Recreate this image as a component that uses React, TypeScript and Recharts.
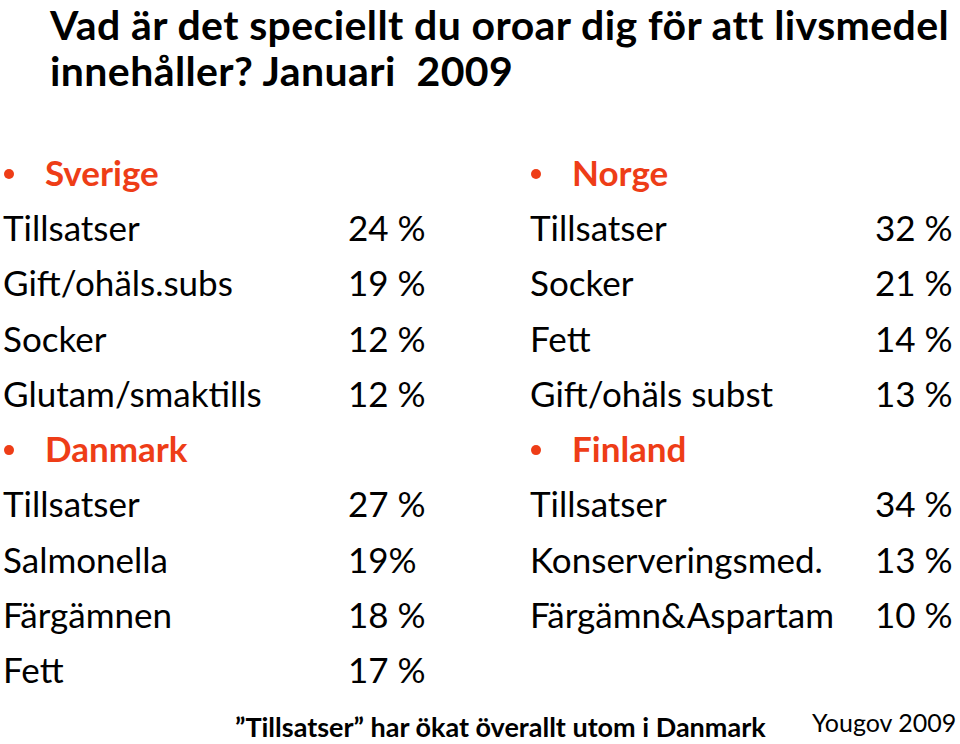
import React from "react";
import { ScatterChart, Scatter, XAxis, YAxis } from "recharts";

const title = ["Vad är det speciellt du oroar dig för att livsmedel", "innehåller? Januari  2009"];

const sverigeItems = ["Tillsatser", "Gift/ohäls.subs", "Socker", "Glutam/smaktills"];
const sverigeValues = ["24 %", "19 %", "12 %", "12 %"];

const danmarkItems = ["Tillsatser", "Salmonella", "Färgämnen", "Fett"];
const danmarkValues = ["27 %", "19%", "18 %", "17 %"];

const norgeItems = ["Tillsatser", "Socker", "Fett", "Gift/ohäls subst"];
const norgeValues = ["32 %", "21 %", "14 %", "13 %"];

const finlandItems = ["Tillsatser", "Konserveringsmed.", "Färgämn&Aspartam"];
const finlandValues = ["34 %", "13 %", "10 %"];

const footnote = "”Tillsatser” har ökat överallt utom i Danmark";
const source = "Yougov 2009";

const ORANGE = "#EE3D17";
const FONT = "Lato, 'Open Sans', sans-serif";

type Row = { col: number; row: number; label: string; value?: string; header?: boolean };

// one country block: header line + item lines below it
function block(col: number, start: number, name: string, items: string[], values: string[]): Row[] {
  const out: Row[] = [{ col, row: start, label: name, header: true }];
  items.forEach((it, i) => out.push({ col, row: start + 1 + i, label: it, value: values[i] }));
  return out;
}

const rows: Row[] = [
  ...block(0, 0, "Sverige", sverigeItems, sverigeValues),
  ...block(0, 5, "Danmark", danmarkItems, danmarkValues),
  ...block(1, 0, "Norge", norgeItems, norgeValues),
  ...block(1, 5, "Finland", finlandItems, finlandValues),
];

const VALUE_OFFSET = [345, 345];

const RowShape = (props: any) => {
  const { cx, cy, payload } = props;
  if (payload.header) {
    return (
      <g>
        <circle cx={cx + 6} cy={cy - 12} r={5} fill={ORANGE} />
        <text x={cx + 42} y={cy} fill={ORANGE} fontFamily={FONT} fontWeight={700} fontSize={35}>
          {payload.label}
        </text>
      </g>
    );
  }
  return (
    <g fontFamily={FONT} fontSize={35} fill="#000">
      <text x={cx} y={cy}>{payload.label}</text>
      <text x={cx + VALUE_OFFSET[payload.col]} y={cy}>{payload.value}</text>
    </g>
  );
};

const titleStyle: React.CSSProperties = {
  position: "absolute",
  left: 50,
  fontFamily: FONT,
  fontWeight: 700,
  fontSize: 41,
  letterSpacing: 0.4,
  lineHeight: "30px",
  whiteSpace: "pre",
  color: "#000",
};

export default function App() {
  return (
    <div style={{ position: "absolute", left: 0, top: 0, width: 960, height: 744, background: "#fff", overflow: "hidden" }}>
      <div style={{ ...titleStyle, top: 10 }}>{title[0]}</div>
      <div style={{ ...titleStyle, top: 56 }}>{title[1]}</div>
      <ScatterChart width={960} height={744} margin={{ top: 186, right: 430, bottom: 61, left: 3 }}>
        <XAxis type="number" dataKey="col" domain={[0, 1]} hide />
        <YAxis type="number" dataKey="row" domain={[0, 9]} reversed hide />
        <Scatter data={rows} shape={RowShape} isAnimationActive={false} />
      </ScatterChart>
      <div
        style={{
          position: "absolute",
          left: 235,
          top: 717,
          fontFamily: FONT,
          fontWeight: 700,
          fontSize: 27,
          lineHeight: "20px",
          whiteSpace: "pre",
        }}
      >
        {footnote}
      </div>
      <div
        style={{
          position: "absolute",
          left: 812,
          top: 712,
          fontFamily: FONT,
          fontSize: 25,
          lineHeight: "20px",
          whiteSpace: "pre",
        }}
      >
        {source}
      </div>
    </div>
  );
}
